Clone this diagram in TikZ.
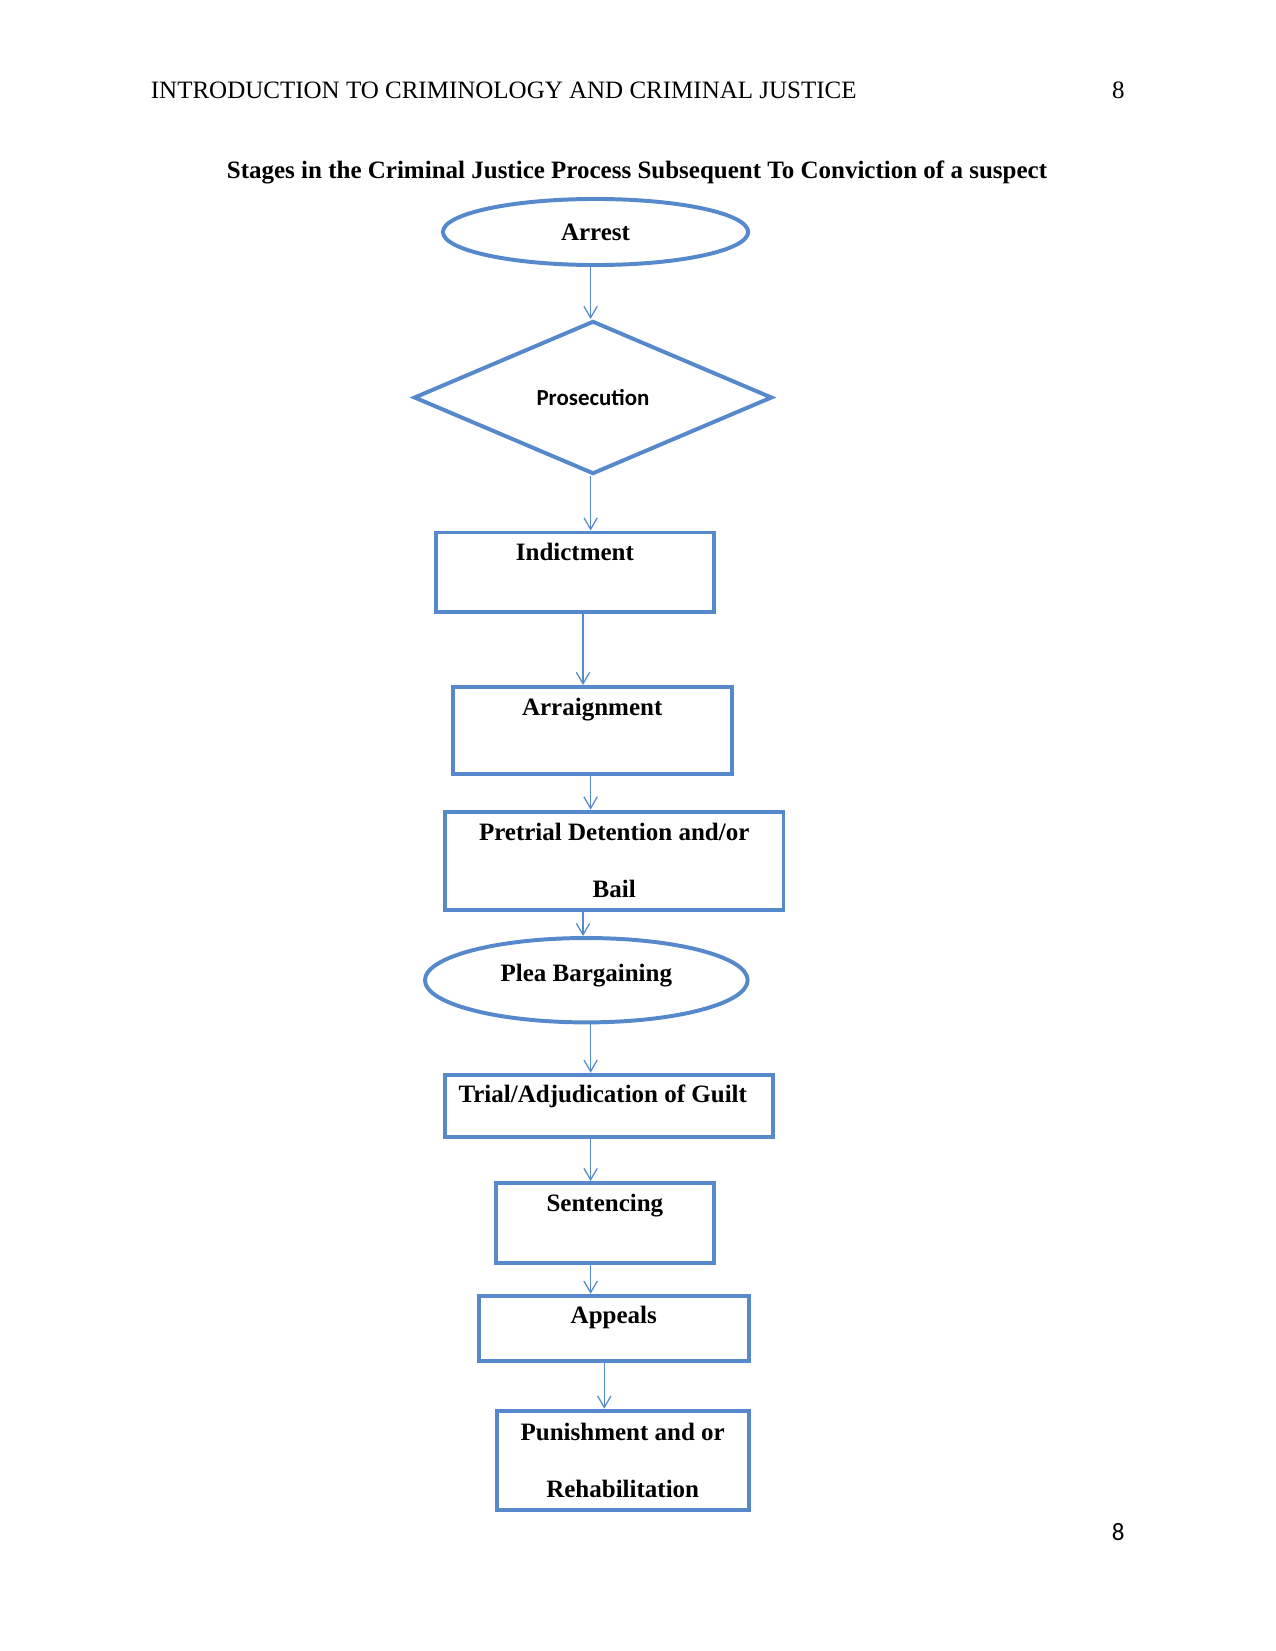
\documentclass[tikz,border=0pt,12pt]{standalone}
\usepackage{fontspec}
\setmainfont{Liberation Serif}
\newfontfamily\calibri{Carlito}
\usetikzlibrary{shapes.geometric,arrows.meta}
\definecolor{stageblue}{RGB}{86,136,204}

\begin{document}
\begin{tikzpicture}[x=0.48pt,y=-0.48pt,
  stagebox/.style={draw=stageblue,line width=1.9pt,rectangle,inner sep=0pt,font=\bfseries,align=center},
  stageoval/.style={draw=stageblue,line width=1.9pt,ellipse,inner sep=0pt,font=\bfseries},
  flow/.style={draw=stageblue,line width=0.6pt,-{Straight Barb[length=5.5pt,width=6.4pt]}}]
\useasboundingbox (0,0) rectangle (1275,1651);
\node[anchor=base west,inner sep=0pt] (runhead) at (150.5,99) {INTRODUCTION TO CRIMINOLOGY AND CRIMINAL JUSTICE};
\node[anchor=base east,inner sep=0pt] (pagetop) at (1125,99) {8};
\node[anchor=base,font=\bfseries] (title) at (637,179) {Stages in the Criminal Justice Process Subsequent To Conviction of a suspect};
\node[stageoval,minimum width=146.5pt,minimum height=31.7pt] (arrest) at (595.5,232) {Arrest};
\node[draw=stageblue,line width=1.9pt,diamond,aspect=2.3,inner sep=0pt,minimum width=172pt,minimum height=73.5pt,font=\calibri\bfseries\fontsize{11}{13}\selectfont] (prosecution) at (593,397.5) {Prosecution};
\node[stagebox,anchor=north,minimum width=133.6pt,text height=13.5pt,text depth=24.5pt] (indictment) at (574.9,530.5) {Indictment};
\node[stagebox,anchor=north,minimum width=134pt,text height=13.5pt,text depth=28.3pt] (arraignment) at (592.2,685) {Arraignment};
\node[stagebox,minimum width=162.5pt,minimum height=47.1pt] (pretrial) at (614.2,860.6) {Pretrial Detention and/or\\[12.9pt]Bail};
\node[stageoval,minimum width=154.9pt,minimum height=40.5pt,text height=8pt,text depth=7pt] (plea) at (586.3,980.2) {Plea Bargaining};
\node[stagebox,anchor=north,minimum width=157.5pt,text height=13.5pt,text depth=16.4pt] (trial) at (609,1072.7) {Trial/Adjudication of Guilt\hspace{6pt}};
\node[stagebox,anchor=north,minimum width=104.8pt,text height=13.5pt,text depth=24.9pt] (sentencing) at (604.9,1181) {Sentencing};
\node[stagebox,anchor=north,minimum width=129.5pt,text height=13.5pt,text depth=18pt] (appeals) at (613.8,1293.8) {Appeals};
\node[stagebox,minimum width=120.9pt,minimum height=47.6pt] (punishment) at (622.7,1460.2) {Punishment and or\\[12.9pt]Rehabilitation};
\node[anchor=base east,inner sep=0pt,font=\calibri] (pagefoot) at (1125,1540) {8};
\coordinate (spine) at (590.6,0);
\coordinate (spineleft) at (583,0);
\coordinate (spineright) at (604.3,0);
\draw[flow] (arrest.south -| spine) -- (prosecution.north -| spine);
\draw[flow] (prosecution.south -| spine) -- (indictment.north -| spine);
\draw[flow] (indictment.south -| spineleft) -- (arraignment.north -| spineleft);
\draw[flow] (arraignment.south -| spine) -- (pretrial.north -| spine);
\draw[flow] (pretrial.south -| spineleft) -- (plea.north -| spineleft);
\draw[flow] (plea.south -| spine) -- (trial.north -| spine);
\draw[flow] (trial.south -| spine) -- (sentencing.north -| spine);
\draw[flow] (sentencing.south -| spine) -- (appeals.north -| spine);
\draw[flow] (appeals.south -| spineright) -- (punishment.north -| spineright);
\end{tikzpicture}
\end{document}
